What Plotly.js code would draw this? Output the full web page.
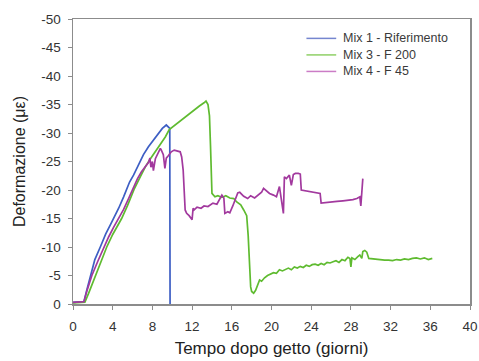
<!DOCTYPE html>
<html>
<head>
<meta charset="utf-8">
<script src="https://cdn.plot.ly/plotly-3.0.1.min.js"></script>
<style>html,body{margin:0;padding:0;background:#fff;}#chart{width:479px;height:361px;}</style>
</head>
<body>
<div id="chart"></div>
<script>
const seriesNames = ["Mix 1 - Riferimento", "Mix 3 - F 200", "Mix 4 - F 45"];

const mix1X = [0, 0.6, 1.1, 1.4, 1.75, 2.2, 2.75, 3.3, 3.8, 4.1, 4.6, 5.1, 5.7, 6.1, 6.6, 7.1, 7.6, 8.1, 8.6, 9.0, 9.4, 9.6, 9.75, 9.78];
const mix1Y = [-0.3, -0.4, -0.4, -2.5, -5, -7.8, -10, -12.3, -14, -15, -16.8, -18.8, -21.4, -22.6, -24.3, -26.2, -27.6, -28.8, -30, -30.8, -31.4, -31, -30.8, 0];

const mix3X = [0, 0.6, 1.2, 1.6, 2.0, 2.25, 2.8, 3.4, 4.0, 4.5, 4.9, 5.5, 6.2, 6.8, 7.3, 7.8, 8.3, 8.8, 9.3, 9.7, 10.2, 10.7, 11.2, 11.7, 12.2, 12.7, 13.2, 13.4, 13.6, 13.75, 13.85, 13.95, 14.0,
  14.3, 14.6, 15.0, 15.4, 15.8, 16.2, 16.5, 16.9, 17.2, 17.5, 17.65, 17.8, 17.9, 18.0, 18.2, 18.4, 18.6, 18.8, 19.0, 19.3, 19.6, 19.9, 20.2, 20.5, 20.8, 21.1, 21.4, 21.7, 22.0, 22.3, 22.6, 22.9, 23.2, 23.5, 23.8, 24.1, 24.4, 24.7, 25.0, 25.3, 25.6, 25.9, 26.2, 26.5, 26.8, 27.1, 27.4, 27.7, 27.9, 28.0, 28.1, 28.4, 28.7, 28.9, 29.1, 29.2, 29.4, 29.6, 29.8, 30.2, 30.6, 31.0, 31.4, 31.8, 32.2, 32.6, 33.0, 33.4, 33.8, 34.2, 34.6, 35.0, 35.4, 35.8, 36.2];
const mix3Y = [-0.2, -0.3, -0.3, -2, -3.8, -5, -7.5, -10, -12.2, -13.8, -15, -17.3, -20.3, -22.4, -24.1, -25.5, -26.8, -28, -29.3, -30.6, -31.3, -32.0, -32.6, -33.3, -34.0, -34.7, -35.3, -35.6, -35.0, -33, -28, -23, -19.4,
  -18.8, -19.0, -18.7, -19.0, -18.6, -18.5, -17.9, -17.4, -16.5, -15.5, -12, -6, -3, -2.2, -1.9, -2.4, -3.5, -4.2, -4.0, -4.6, -5.0, -5.2, -5.5, -5.4, -6.0, -5.8, -6.1, -6.3, -6.0, -6.5, -6.3, -6.6, -6.4, -6.8, -6.6, -6.9, -7.0, -6.8, -7.1, -6.9, -7.3, -7.2, -7.4, -7.6, -7.3, -7.8, -7.6, -8.2, -8.0, -6.5, -8.1, -7.8, -8.3, -8.6, -8.0, -9.2, -9.4, -9.1, -8.0, -7.9, -7.8, -7.8, -7.7, -7.7, -7.6, -7.8, -7.7, -7.9, -7.8, -8.0, -8.1, -7.9, -8.1, -7.8, -8.0];

const mix4X = [0, 0.6, 1.1, 1.4, 1.9, 2.5, 3.1, 3.6, 4.1, 4.6, 5.1, 5.6, 6.1, 6.5, 6.9, 7.3, 7.6, 7.75, 7.85, 8.0, 8.1, 8.3, 8.6, 8.8, 8.9, 9.1, 9.26, 9.4, 9.6, 9.9, 10.2, 10.5, 10.8, 10.95, 11.1, 11.2, 11.3, 11.45, 11.7, 12.0, 12.1, 12.2, 12.5, 12.9, 13.2, 13.6, 14.1, 14.5, 14.8, 15.0, 15.2, 15.3, 15.6, 15.8, 16.1, 16.3, 16.6, 16.8, 17.2, 17.6, 17.9, 18.3, 18.7, 19.0, 19.2, 19.5, 19.8, 20.2, 20.5, 20.8, 21.0, 21.2, 21.3, 21.5, 21.8, 22.0, 22.2, 22.4, 22.7, 22.9, 23.0, 23.4, 23.9, 24.4, 24.9, 25.0, 25.5, 26.0, 26.6, 27.2, 27.8, 28.2, 28.6, 28.9, 29.0, 29.1, 29.2];
const mix4Y = [-0.3, -0.4, -0.4, -2.3, -5, -7.5, -10, -11.8, -13.5, -15, -16.6, -18.5, -20.5, -22.0, -23.2, -24.2, -24.8, -25.6, -24.0, -25.0, -23.4, -25.5, -26.5, -27.3, -27.0, -26.2, -23.8, -25.6, -26.0, -26.7, -27.0, -26.9, -26.7, -25.8, -23.5, -20, -16.5, -15.9, -15.5, -14.8, -16.8, -16.5, -17.0, -16.8, -17.2, -17.1, -17.7, -17.5, -18.6, -19.1, -18.6, -15.9, -16.2, -16.0, -17.2, -18.0, -19.5, -19.6, -18.9, -18.5, -19.0, -18.6, -19.2, -19.6, -20.3, -19.8, -19.4, -19.1, -18.8, -20.6, -18.5, -15.9, -22.3, -22.0, -22.6, -20.8, -22.7, -22.9, -22.9, -22.8, -20.0, -19.9, -19.7, -19.6, -19.4, -17.7, -17.8, -18.0, -18.0, -18.1, -18.2, -18.3, -18.5, -18.8, -17.2, -19.0, -22.0];

const xTickVals = [0, 4, 8, 12, 16, 20, 24, 28, 32, 36, 40];
const xTickText = ["0", "4", "8", "12", "16", "20", "24", "28", "32", "36", "40"];
const yTickVals = [0, -5, -10, -15, -20, -25, -30, -35, -40, -45, -50];
const yTickText = ["0", "-5", "-10", "-15", "-20", "-25", "-30", "-35", "-40", "-45", "-50"];

const colors = ["#3d5ec4", "#5fbb30", "#a2399e"];
const legendColors = ["#7586cf", "#8fd067", "#cb7cc6"];
const xs = [mix1X, mix3X, mix4X];
const ys = [mix1Y, mix3Y, mix4Y];
const FONT = "Liberation Sans, Arial, sans-serif";

const traces = seriesNames.map((n, i) => ({
  x: xs[i], y: ys[i], name: n, type: "scatter", mode: "lines",
  line: {color: colors[i], width: 1.7}, showlegend: false
}));

// legend drawn in paper space (layout only)
const legTop = 0.932, legStep = 0.058, legX0 = 0.588, legX1 = 0.663, legTextX = 0.675;
const shapes = seriesNames.map((n, i) => ({
  type: "line", xref: "paper", yref: "paper",
  x0: legX0, x1: legX1, y0: legTop - i * legStep, y1: legTop - i * legStep,
  line: {color: legendColors[i], width: 1.5}
}));
const annotations = seriesNames.map((n, i) => ({
  xref: "paper", yref: "paper", x: legTextX, y: legTop - i * legStep,
  xanchor: "left", yanchor: "middle", showarrow: false, text: n,
  font: {family: FONT, size: 12.5, color: "#3a3a3a"}
}));

const axisCommon = {
  showline: true, mirror: true, linecolor: "#8c8c8c", linewidth: 1.5,
  ticks: "outside", ticklen: 4, tickcolor: "#8c8c8c", tickwidth: 1,
  showgrid: false, zeroline: false,
  tickfont: {family: FONT, size: 13.5, color: "#333"}
};

const layout = {
  width: 479, height: 361,
  margin: {l: 73, r: 9, t: 19, b: 57},
  paper_bgcolor: "#fff", plot_bgcolor: "#fff",
  showlegend: false,
  shapes: shapes, annotations: annotations,
  xaxis: Object.assign({}, axisCommon, {
    range: [0, 40], tickmode: "array", tickvals: xTickVals, ticktext: xTickText,
    ticklabelstandoff: 5,
    title: {text: "Tempo dopo getto (giorni)", standoff: 9, font: {family: FONT, size: 17, color: "#222"}}
  }),
  yaxis: Object.assign({}, axisCommon, {
    range: [0, -50], tickmode: "array", tickvals: yTickVals, ticktext: yTickText,
    ticklabelstandoff: 4,
    title: {text: "Deformazione (με)", standoff: 11, font: {family: FONT, size: 16, color: "#222"}}
  })
};

Plotly.newPlot("chart", traces, layout, {staticPlot: true, displayModeBar: false});
</script>
</body>
</html>
